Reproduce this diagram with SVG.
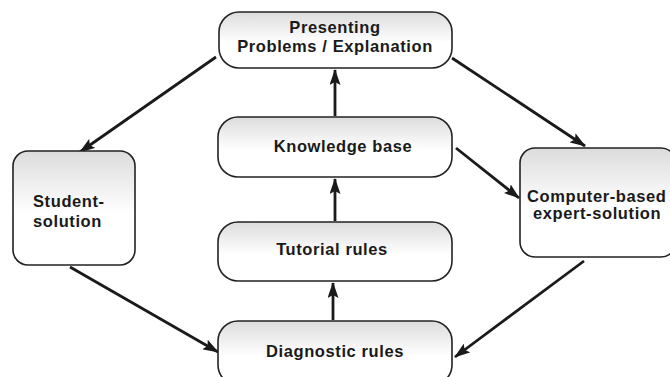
<svg xmlns="http://www.w3.org/2000/svg" width="670" height="377" viewBox="0 0 670 377">
<defs>
<linearGradient id="g" x1="0" y1="0" x2="0" y2="1">
<stop offset="0" stop-color="#dcdcdc"/>
<stop offset="0.55" stop-color="#ffffff"/>
<stop offset="1" stop-color="#ffffff"/>
</linearGradient>
<marker id="ah" viewBox="0 0 16 11" refX="15" refY="5.5" markerWidth="16" markerHeight="11" markerUnits="userSpaceOnUse" orient="auto">
<path d="M0,0 L16,5.5 L0,11 L3,5.5 z" fill="#1a1a1a"/>
</marker>
<style>
.n{fill:url(#g);stroke:#222;stroke-width:1.6}
.t{font-family:"Liberation Sans",Arial,sans-serif;font-weight:bold;font-size:16.5px;letter-spacing:0.6px;fill:#1a1a1a}
.c{text-anchor:middle}
.e{fill:none;stroke:#1a1a1a;stroke-width:2.8;marker-end:url(#ah)}
</style>
</defs>
<g id="connectors">
<line class="e" x1="216" y1="57" x2="80" y2="152"/>
<line class="e" x1="452" y1="58" x2="585" y2="146"/>
<line class="e" x1="456" y1="148" x2="519" y2="198"/>
<line class="e" x1="70" y1="267" x2="218" y2="352"/>
<line class="e" x1="584" y1="261" x2="455" y2="357"/>
<line class="e" x1="335" y1="116" x2="335" y2="70"/>
<line class="e" x1="335" y1="221" x2="335" y2="179"/>
<line class="e" x1="333" y1="320" x2="333" y2="283"/>
</g>
<g id="presenting">
<rect class="n" x="219" y="12" width="233" height="56" rx="20"/>
<text class="t c" x="335" y="33">Presenting</text>
<text class="t c" x="335" y="52">Problems / Explanation</text>
</g>
<g id="knowledge">
<rect class="n" x="218" y="117" width="234" height="60" rx="20"/>
<text class="t c" x="343" y="152">Knowledge base</text>
</g>
<g id="tutorial">
<rect class="n" x="218" y="222" width="234" height="59" rx="20"/>
<text class="t c" x="332" y="255">Tutorial rules</text>
</g>
<g id="diagnostic">
<rect class="n" x="218" y="321" width="234" height="64" rx="20"/>
<text class="t c" x="335" y="357">Diagnostic rules</text>
</g>
<g id="student">
<rect class="n" x="13" y="151" width="122" height="114" rx="15"/>
<text class="t" x="33" y="207">Student-</text>
<text class="t" x="33" y="227">solution</text>
</g>
<g id="computer">
<rect class="n" x="520" y="148" width="156" height="109" rx="15"/>
<text class="t" x="527" y="202">Computer-based</text>
<text class="t" x="533" y="219">expert-solution</text>
</g>
</svg>
